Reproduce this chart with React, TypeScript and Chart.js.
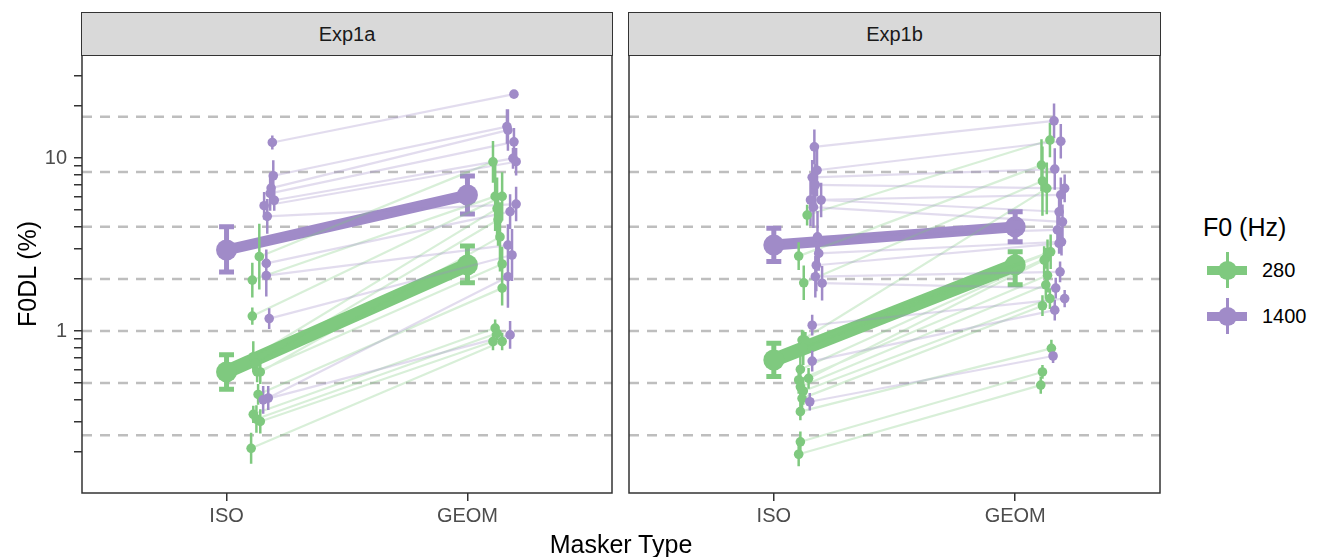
import React, { useEffect, useRef } from 'react';
import { Chart, registerables } from 'chart.js';
Chart.register(...registerables);

const FONT = "'Liberation Sans', Arial, Helvetica, sans-serif";

// ---------- categories / labels ----------
const maskerTypes = ['ISO', 'GEOM'];
const experiments = ['Exp1a', 'Exp1b'];
const f0Levels = ['280', '1400'];
const yAxisTitle = 'F0DL (%)';
const xAxisTitle = 'Masker Type';
const legendTitle = 'F0 (Hz)';

// ---------- axes ----------
const xMin = 0.4;
const xMax = 2.6;
const yMin = 0.1158;
const yMax = 39.4;
const yTickValues = [0.2, 0.3, 0.4, 0.5, 0.6, 0.7, 0.8, 0.9, 1, 2, 3, 4, 5, 6, 7, 8, 9, 10, 20, 30];
const yTickLabels = [1, 10];
const refLineValues = [0.25, 0.5, 1, 2, 4, 8.3, 17.3];

// ---------- group means (ISO, GEOM) ----------
const a280Mean = [0.58, 2.41];
const a280Lo = [0.46, 1.9];
const a280Hi = [0.73, 3.1];
const a1400Mean = [2.94, 6.11];
const a1400Lo = [2.19, 4.75];
const a1400Hi = [4.0, 7.87];
const b280Mean = [0.68, 2.41];
const b280Lo = [0.545, 1.85];
const b280Hi = [0.85, 2.87];
const b1400Mean = [3.14, 4.0];
const b1400Lo = [2.52, 3.28];
const b1400Hi = [3.93, 4.89];

// ---------- individual listeners: Exp1a, 280 Hz ----------
const a280Iso = [2.69, 1.97, 1.22, 0.71, 0.65, 0.58, 0.58, 0.43, 0.33, 0.31, 0.3, 0.21];
const a280Geom = [9.5, 6.0, 6.0, 5.1, 4.4, 3.5, 2.44, 1.77, 1.04, 0.97, 0.87, 0.87];
const a280IsoOff = [0.136, 0.107, 0.107, 0.111, 0.119, 0.14, 0.127, 0.131, 0.111, 0.124, 0.14, 0.102];
const a280GeomOff = [0.106, 0.115, 0.144, 0.123, 0.127, 0.135, 0.144, 0.144, 0.115, 0.123, 0.106, 0.144];
const a280IsoErr = [0.19, 0.1, 0.05, 0.09, 0.06, 0.07, 0.06, 0.06, 0.05, 0.08, 0.07, 0.09];
const a280GeomErr = [0.12, 0.2, 0.14, 0.18, 0.15, 0.2, 0.1, 0.1, 0.05, 0.04, 0.05, 0.05];

// ---------- Exp1a, 1400 Hz ----------
const a1400Iso = [12.3, 7.9, 6.7, 6.25, 5.7, 5.3, 4.6, 2.46, 2.09, 1.18, 0.41, 0.4];
const a1400Geom = [23.4, 15.2, 14.5, 12.4, 9.96, 9.52, 5.42, 4.9, 3.14, 2.75, 2.06, 0.95];
const a1400IsoOff = [0.19, 0.194, 0.185, 0.181, 0.198, 0.156, 0.169, 0.165, 0.165, 0.177, 0.173, 0.152];
const a1400GeomOff = [0.193, 0.164, 0.168, 0.193, 0.189, 0.202, 0.202, 0.177, 0.168, 0.185, 0.168, 0.177];
const a1400IsoErr = [0.04, 0.09, 0.07, 0.1, 0.06, 0.08, 0.1, 0.08, 0.12, 0.06, 0.07, 0.08];
const a1400GeomErr = [0.02, 0.1, 0.12, 0.08, 0.06, 0.08, 0.1, 0.1, 0.12, 0.15, 0.18, 0.08];

// ---------- Exp1b, 280 Hz ----------
const b280Iso = [4.68, 2.71, 1.9, 0.887, 0.88, 0.8, 0.6, 0.533, 0.521, 0.476, 0.45, 0.408, 0.342, 0.229, 0.194];
const b280Geom = [12.7, 9.1, 7.36, 6.68, 2.87, 2.81, 2.63, 2.57, 2.1, 1.85, 1.54, 1.4, 0.794, 0.58, 0.487];
const b280IsoOff = [0.138, 0.103, 0.124, 0.117, 0.131, 0.122, 0.11, 0.144, 0.103, 0.11, 0.122, 0.117, 0.11, 0.11, 0.103];
const b280GeomOff = [0.144, 0.109, 0.113, 0.131, 0.147, 0.134, 0.127, 0.12, 0.134, 0.127, 0.144, 0.113, 0.15, 0.113, 0.106];
const b280IsoErr = [0.06, 0.08, 0.1, 0.06, 0.05, 0.1, 0.12, 0.06, 0.08, 0.1, 0.08, 0.06, 0.05, 0.06, 0.07];
const b280GeomErr = [0.1, 0.15, 0.2, 0.15, 0.1, 0.08, 0.06, 0.08, 0.1, 0.08, 0.06, 0.06, 0.05, 0.04, 0.05];

// ---------- Exp1b, 1400 Hz ----------
const b1400Iso = [11.6, 8.5, 7.73, 7.0, 5.72, 5.72, 5.2, 3.5, 2.81, 2.4, 2.06, 1.89, 1.08, 0.67, 0.39];
const b1400Geom = [16.4, 12.5, 8.63, 6.68, 6.12, 4.89, 4.28, 3.84, 3.28, 3.21, 2.2, 1.77, 1.54, 1.32, 0.717];
const b1400IsoOff = [0.168, 0.179, 0.159, 0.172, 0.152, 0.196, 0.164, 0.181, 0.186, 0.176, 0.172, 0.2, 0.159, 0.159, 0.149];
const b1400GeomOff = [0.161, 0.189, 0.164, 0.205, 0.189, 0.182, 0.196, 0.175, 0.192, 0.182, 0.186, 0.168, 0.205, 0.164, 0.157];
const b1400IsoErr = [0.1, 0.15, 0.1, 0.12, 0.15, 0.1, 0.12, 0.15, 0.1, 0.15, 0.12, 0.1, 0.06, 0.06, 0.05];
const b1400GeomErr = [0.1, 0.1, 0.12, 0.08, 0.1, 0.08, 0.1, 0.08, 0.08, 0.06, 0.06, 0.06, 0.05, 0.06, 0.04];

// ---------- styles ----------
const GREEN = '#7FC97F';
const PURPLE = '#A08BC8';
const GREEN_FAINT = 'rgba(127,201,127,0.3)';
const PURPLE_FAINT = 'rgba(160,139,200,0.3)';
const DARK = '#333333';
const TICK_TEXT = '#4D4D4D';

type Pt = { x: number; y: number | null };

function gapSeries(segs: Pt[][]): Pt[] {
  const out: Pt[] = [];
  segs.forEach((s, i) => {
    if (i > 0) out.push({ x: s[0].x, y: null });
    out.push(...s);
  });
  return out;
}

type Group = {
  color: string;
  faint: string;
  mean: number[];
  lo: number[];
  hi: number[];
  iso: number[];
  geom: number[];
  isoOff: number[];
  geomOff: number[];
  isoErr: number[];
  geomErr: number[];
  meanW: number;
};

function buildDatasets(groups: Group[]) {
  const ds: any[] = [];
  let order = 1000;
  const push = (d: any) => {
    ds.push({ showLine: true, pointRadius: 0, fill: false, spanGaps: false, borderCapStyle: 'butt', ...d, order: order-- });
  };
  // reference dashed lines
  push({
    data: gapSeries(refLineValues.map((v) => [{ x: xMin, y: v }, { x: xMax, y: v }])),
    borderColor: '#BEBEBE',
    borderWidth: 2.5,
    borderDash: [10, 8],
  });
  const capHalf = 0.031;
  // mean lines
  groups.forEach((g) =>
    push({ data: g.mean.map((m, i) => ({ x: i + 1, y: m })), borderColor: g.color, borderWidth: g.meanW })
  );
  // mean error bars with caps
  groups.forEach((g) => {
    const segs: Pt[][] = [];
    g.mean.forEach((_, i) => {
      const x = i + 1;
      segs.push([{ x, y: g.lo[i] }, { x, y: g.hi[i] }]);
      segs.push([{ x: x - capHalf, y: g.lo[i] }, { x: x + capHalf, y: g.lo[i] }]);
      segs.push([{ x: x - capHalf, y: g.hi[i] }, { x: x + capHalf, y: g.hi[i] }]);
    });
    push({ data: gapSeries(segs), borderColor: g.color, borderWidth: 5 });
  });
  // mean points
  groups.forEach((g) =>
    push({
      data: g.mean.map((m, i) => ({ x: i + 1, y: m })),
      showLine: false,
      pointRadius: 10.5,
      pointBackgroundColor: g.color,
      pointBorderWidth: 0,
    })
  );
  // individual connecting lines
  groups.forEach((g) => {
    const segs: Pt[][] = g.iso.map((v, i) => [
      { x: 1 + g.isoOff[i], y: v },
      { x: 2 + g.geomOff[i], y: g.geom[i] },
    ]);
    push({ data: gapSeries(segs), borderColor: g.faint, borderWidth: 2.2 });
  });
  // individual error bars
  groups.forEach((g) => {
    const segs: Pt[][] = [];
    g.iso.forEach((v, i) => {
      const x = 1 + g.isoOff[i];
      const f = Math.pow(10, g.isoErr[i]);
      segs.push([{ x, y: v / f }, { x, y: v * f }]);
    });
    g.geom.forEach((v, i) => {
      const x = 2 + g.geomOff[i];
      const f = Math.pow(10, g.geomErr[i]);
      segs.push([{ x, y: v / f }, { x, y: v * f }]);
    });
    push({ data: gapSeries(segs), borderColor: g.color, borderWidth: 2.5 });
  });
  // individual points
  groups.forEach((g) => {
    const pts: Pt[] = [
      ...g.iso.map((v, i) => ({ x: 1 + g.isoOff[i], y: v })),
      ...g.geom.map((v, i) => ({ x: 2 + g.geomOff[i], y: v })),
    ];
    push({ data: pts, showLine: false, pointRadius: 4.8, pointBackgroundColor: g.color, pointBorderWidth: 0 });
  });
  return ds;
}

const panelBorder = {
  id: 'panelBorder',
  afterDatasetsDraw(chart: any) {
    const { ctx, chartArea } = chart;
    ctx.save();
    ctx.strokeStyle = DARK;
    ctx.lineWidth = 1.5;
    ctx.strokeRect(chartArea.left, chartArea.top, chartArea.right - chartArea.left, chartArea.bottom - chartArea.top);
    ctx.restore();
  },
};

function makeConfig(groups: Group[], showY: boolean, padL: number, padR: number) {
  return {
    type: 'line',
    data: { datasets: buildDatasets(groups) },
    options: {
      animation: false,
      responsive: false,
      events: [],
      layout: { autoPadding: false, padding: { top: 55, left: padL, right: padR, bottom: 0 } },
      plugins: { legend: { display: false }, tooltip: { enabled: false } },
      scales: {
        x: {
          type: 'linear',
          min: xMin,
          max: xMax,
          afterBuildTicks: (s: any) => {
            s.ticks = maskerTypes.map((_, i) => ({ value: i + 1 }));
          },
          afterFit: (s: any) => {
            s.height = 64;
          },
          ticks: {
            callback: (v: number) => maskerTypes[Math.round(v) - 1] ?? '',
            font: { family: FONT, size: 20 },
            color: TICK_TEXT,
            padding: 3,
            autoSkip: false,
            maxRotation: 0,
          },
          grid: { drawOnChartArea: false, drawTicks: true, tickLength: 8, color: DARK, lineWidth: 1.5 },
          border: { display: false },
        },
        y: {
          type: 'logarithmic',
          display: showY,
          min: yMin,
          max: yMax,
          afterBuildTicks: (s: any) => {
            s.ticks = yTickValues.map((v) => ({ value: v }));
          },
          afterFit: (s: any) => {
            s.width = showY ? 82 : 0;
          },
          ticks: {
            callback: (v: number) => (yTickLabels.some((t) => Math.abs(t - v) < 1e-9) ? String(v) : ''),
            font: { family: FONT, size: 20 },
            color: TICK_TEXT,
            padding: 7,
            autoSkip: false,
          },
          grid: { drawOnChartArea: false, drawTicks: true, tickLength: 8, color: DARK, lineWidth: 1.5 },
          border: { display: false },
        },
      },
    },
    plugins: [panelBorder],
  };
}

const groupsA: Group[] = [
  { color: GREEN, faint: GREEN_FAINT, mean: a280Mean, lo: a280Lo, hi: a280Hi, iso: a280Iso, geom: a280Geom, isoOff: a280IsoOff, geomOff: a280GeomOff, isoErr: a280IsoErr, geomErr: a280GeomErr, meanW: 14 },
  { color: PURPLE, faint: PURPLE_FAINT, mean: a1400Mean, lo: a1400Lo, hi: a1400Hi, iso: a1400Iso, geom: a1400Geom, isoOff: a1400IsoOff, geomOff: a1400GeomOff, isoErr: a1400IsoErr, geomErr: a1400GeomErr, meanW: 11 },
];
const groupsB: Group[] = [
  { color: GREEN, faint: GREEN_FAINT, mean: b280Mean, lo: b280Lo, hi: b280Hi, iso: b280Iso, geom: b280Geom, isoOff: b280IsoOff, geomOff: b280GeomOff, isoErr: b280IsoErr, geomErr: b280GeomErr, meanW: 14 },
  { color: PURPLE, faint: PURPLE_FAINT, mean: b1400Mean, lo: b1400Lo, hi: b1400Hi, iso: b1400Iso, geom: b1400Geom, isoOff: b1400IsoOff, geomOff: b1400GeomOff, isoErr: b1400IsoErr, geomErr: b1400GeomErr, meanW: 11 },
];

function Panel(props: { groups: Group[]; showY: boolean; left: number; width: number; padL: number; padR: number }) {
  const ref = useRef<HTMLCanvasElement | null>(null);
  useEffect(() => {
    if (!ref.current) return;
    const chart = new Chart(ref.current, makeConfig(props.groups, props.showY, props.padL, props.padR) as any);
    return () => chart.destroy();
  }, []);
  return (
    <canvas
      ref={ref}
      width={props.width}
      height={557}
      style={{ position: 'absolute', left: props.left, top: 0, width: props.width, height: 557 }}
    />
  );
}

function Strip(props: { left: number; width: number; text: string }) {
  return (
    <div
      style={{
        position: 'absolute',
        left: props.left - 0.75,
        top: 12,
        width: props.width + 1.5,
        height: 44,
        boxSizing: 'border-box',
        background: '#D9D9D9',
        border: `1.5px solid ${DARK}`,
        fontFamily: FONT,
        fontSize: 20,
        color: '#1A1A1A',
        display: 'flex',
        alignItems: 'center',
        justifyContent: 'center',
      }}
    >
      {props.text}
    </div>
  );
}

function LegendKey(props: { color: string; cy: number; label: string }) {
  const cx = 1227;
  return (
    <>
      <div style={{ position: 'absolute', left: cx - 20, top: props.cy - 4.5, width: 40, height: 9, background: props.color }} />
      <div style={{ position: 'absolute', left: cx - 1.5, top: props.cy - 18, width: 3, height: 36, background: props.color }} />
      <div style={{ position: 'absolute', left: cx - 9.5, top: props.cy - 9.5, width: 19, height: 19, borderRadius: '50%', background: props.color }} />
      <div style={{ position: 'absolute', left: 1262, top: props.cy - 12, height: 24, lineHeight: '24px', fontFamily: FONT, fontSize: 20, color: '#000' }}>
        {props.label}
      </div>
    </>
  );
}

export default function App() {
  return (
    <div style={{ position: 'absolute', left: 0, top: 0, width: 1329, height: 557, background: '#fff', overflow: 'hidden' }}>
      <Panel groups={groupsA} showY={true} left={0} width={615} padL={0} padR={3} />
      <Panel groups={groupsB} showY={false} left={615} width={550} padL={14} padR={5} />
      <Strip left={82} width={530} text={experiments[0]} />
      <Strip left={629} width={531} text={experiments[1]} />
      <div
        style={{
          position: 'absolute',
          left: 27 - 80,
          top: 274 - 15,
          width: 160,
          height: 30,
          lineHeight: '30px',
          textAlign: 'center',
          transform: 'rotate(-90deg)',
          fontFamily: FONT,
          fontSize: 25,
          color: '#000',
        }}
      >
        {yAxisTitle}
      </div>
      <div
        style={{
          position: 'absolute',
          left: 621 - 150,
          top: 544 - 15,
          width: 300,
          height: 30,
          lineHeight: '30px',
          textAlign: 'center',
          fontFamily: FONT,
          fontSize: 25,
          color: '#000',
        }}
      >
        {xAxisTitle}
      </div>
      <div
        style={{
          position: 'absolute',
          left: 1203,
          top: 227 - 15,
          height: 30,
          lineHeight: '30px',
          fontFamily: FONT,
          fontSize: 25,
          color: '#000',
          whiteSpace: 'nowrap',
        }}
      >
        {legendTitle}
      </div>
      <LegendKey color={GREEN} cy={270} label={f0Levels[0]} />
      <LegendKey color={PURPLE} cy={316} label={f0Levels[1]} />
    </div>
  );
}
